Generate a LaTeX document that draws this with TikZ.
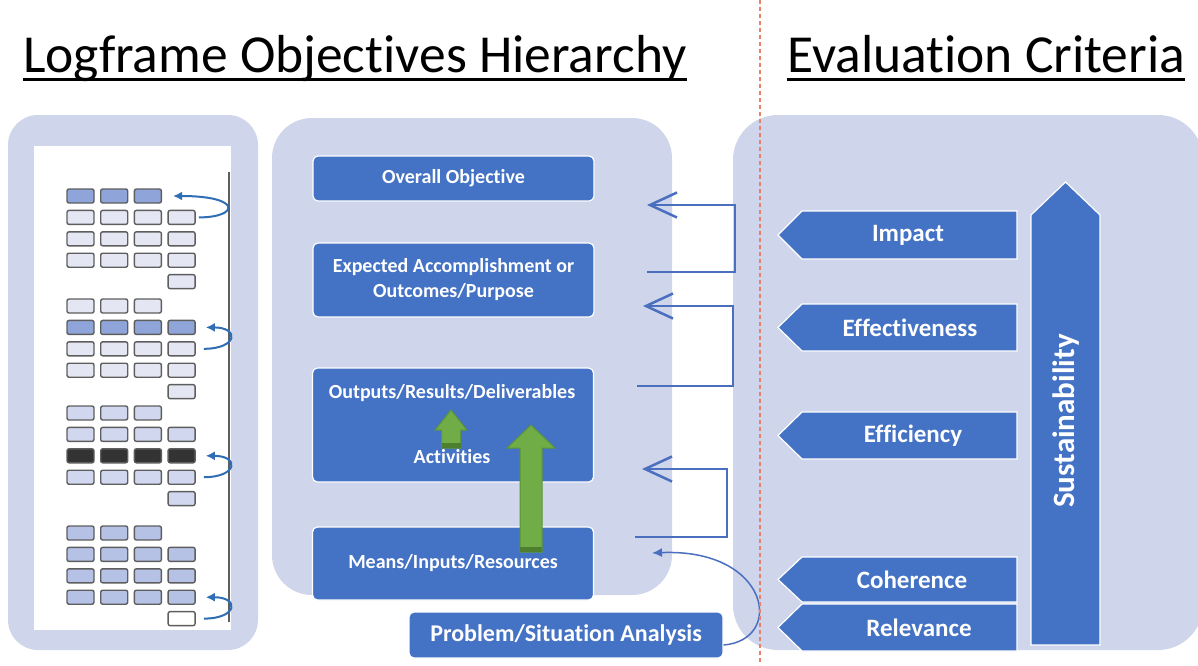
\documentclass[tikz,border=0pt]{standalone}
\usepackage{fontspec}
\setmainfont{Carlito}[Ligatures=CommonOff]
\usetikzlibrary{arrows.meta}

\definecolor{panel}{HTML}{CFD5EA}
\definecolor{boxblue}{HTML}{4472C4}
\definecolor{linkblue}{HTML}{4A6FBF}
\definecolor{loopblue}{HTML}{2F6DB5}
\definecolor{leafgreen}{HTML}{70AD47}
\definecolor{leafedge}{HTML}{5B9538}
\definecolor{leafbase}{HTML}{4E7F2F}
\definecolor{divider}{HTML}{E8806A}
\definecolor{cellline}{HTML}{5E5E5E}
\definecolor{lt}{HTML}{E4E7F3}
\definecolor{hi}{HTML}{8FA5D9}
\definecolor{md}{HTML}{D0D7EE}
\definecolor{dk}{HTML}{333333}
\definecolor{mb}{HTML}{B6C2E5}
\definecolor{wh}{HTML}{FFFFFF}

\begin{document}
\begin{tikzpicture}
	[x=1pt,y=-1pt,
	heading/.style={inner sep=0pt,anchor=base west,font=\fontsize{53.5}{60}\selectfont},
	level/.style={draw=white,line width=1.2pt,fill=boxblue,rounded corners=5pt,minimum width=281pt,
		text=white,font=\bfseries\fontsize{20}{25}\selectfont,align=center,inner sep=0pt},
	crit/.style={draw=white,line width=1.2pt,fill=boxblue},
	critlabel/.style={text=white,font=\bfseries\fontsize{25}{30}\selectfont},
	cell/.style={draw=cellline,line width=1.4pt,rounded corners=2pt,minimum width=27pt,minimum height=14pt,inner sep=0pt},
	loopback/.style={loopblue,line width=2pt,-{Latex[length=9pt,width=9pt]}},
	link/.style={linkblue,line width=1.5pt},
	uparrow/.style={fill=leafgreen,draw=leafedge,line width=1pt}]
	\useasboundingbox (0,0) rectangle (1198,665);

	\node[heading] (lfh) at (23,72) {Logframe Objectives Hierarchy};
	\node[heading] (evc) at (787,72) {Evaluation Criteria};
	\foreach \t in {lfh,evc}
	\draw[line width=2.5pt] ([yshift=-7.5pt]\t.base west) -- ([yshift=-7.5pt]\t.base east);

	\fill[panel,rounded corners=30pt] (8,115) rectangle (258,650);
	\fill[panel,rounded corners=40pt] (272,118) rectangle (672,595);
	\fill[panel,rounded corners=45pt] (733,115) rectangle (1203,650);

	% logframe sheets
	\fill[white] (34,146) rectangle (231,630);
	\draw[cellline,line width=1.5pt] (229,172) -- (229,622);
	\foreach \g/\top/\base/\hl/\hlc in {1/189/lt/1/hi,2/299/lt/2/hi,3/406/md/3/dk,4/526/mb/5/wh}
	\foreach \r/\cols in {1/{1,2,3},2/{1,2,3,4},3/{1,2,3,4},4/{1,2,3,4},5/{4}}
	\foreach \c in \cols {
		\ifnum\r=\hl \def\cellfill{\hlc}\else\def\cellfill{\base}\fi
		\node[cell,fill=\cellfill] (g\g-r\r-c\c) at ({80.5+33.7*(\c-1)},{\top+7+21.4*(\r-1)}) {};
	}
	\draw[loopback] ([xshift=3pt]g1-r2-c4.east) .. controls +(40,0) and +(70,0) .. ([xshift=11pt]g1-r1-c3.east);
	\foreach \g/\k/\n in {2/2/3,3/3/4,4/4/5}
	\draw[loopback] ([xshift=8pt]g\g-r\n-c4.east) .. controls +(34,0) and +(34,0) .. ([xshift=10pt]g\g-r\k-c4.east);

	% objectives hierarchy
	\node[level,minimum height=45pt] (oo) at (453.5,178.5) {Overall Objective};
	\node[level,minimum height=74pt] (ea) at (453.5,280) {Expected Accomplishment or\\Outcomes/Purpose};
	\node[level,minimum height=114pt] (out) at (453,425) {};
	\node[text=white,font=\bfseries\fontsize{20}{25}\selectfont] (outlbl) at (452,393) {Outputs/Results/Deliverables};
	\node[text=white,font=\bfseries\fontsize{20}{25}\selectfont] (act) at (452,457) {Activities};
	\node[level,minimum height=73pt] (mir) at (453,563.5) {Means/Inputs/Resources};
	\node[level,minimum width=314pt,minimum height=46pt,font=\bfseries\fontsize{24}{28}\selectfont] (psa) at (566,635) {Problem/Situation Analysis};

	\foreach \cx/\tip/\neck/\bot/\hw/\sw in {451/410/430/448/16/9.5,531/425/448/552/24/11} {
		\filldraw[uparrow] (\cx-\sw,\bot) -- (\cx-\sw,\neck) -- (\cx-\hw,\neck) -- (\cx,\tip)
			-- (\cx+\hw,\neck) -- (\cx+\sw,\neck) -- (\cx+\sw,\bot) -- cycle;
		\fill[leafbase] (\cx-\sw,\bot-5) rectangle (\cx+\sw,\bot);
	}

	\foreach \i/\fx/\fy/\tx/\ty/\dx in {1/647/272/647/205/88,2/637/386/643/306/96,3/635/537/642/469/92} {
		\coordinate (from\i) at (\fx,\fy);
		\coordinate (to\i) at (\tx,\ty);
		\draw[link,-{Straight Barb[length=27pt,width=25pt,line width=1pt 1]}] (from\i) -- ++(\dx,0) |- (to\i);
	}
	\coordinate (feed) at (652,553);
	\draw[link,-{Latex[length=10pt,width=9pt]}] ([yshift=-10pt]psa.east) .. controls (785,640) and (770,548) .. (feed);

	% evaluation criteria
	\foreach \n/\t/\yy/\hh/\tx in {imp/Impact/235/24/908,eff/Effectiveness/327.5/23.5/910,
		effc/Efficiency/435.5/23.5/913,coh/Coherence/579.5/22.5/912,rel/Relevance/627.5/23.5/919} {
		\filldraw[crit] (1017,\yy-\hh) -- (802,\yy-\hh) -- (778,\yy) -- (802,\yy+\hh) -- (1017,\yy+\hh) -- cycle;
		\node[critlabel] (\n) at (\tx,\yy) {\t};
	}
	\filldraw[crit] (1031,645) -- (1031,215) -- (1065.5,182) -- (1100,215) -- (1100,645) -- cycle;
	\node[critlabel,rotate=90,font=\bfseries\fontsize{31}{36}\selectfont] (sus) at (1066,421) {Sustainability};

	\draw[divider,line width=2.5pt,dash pattern=on 4pt off 3pt] (760,0) -- (760,665);
\end{tikzpicture}
\end{document}
